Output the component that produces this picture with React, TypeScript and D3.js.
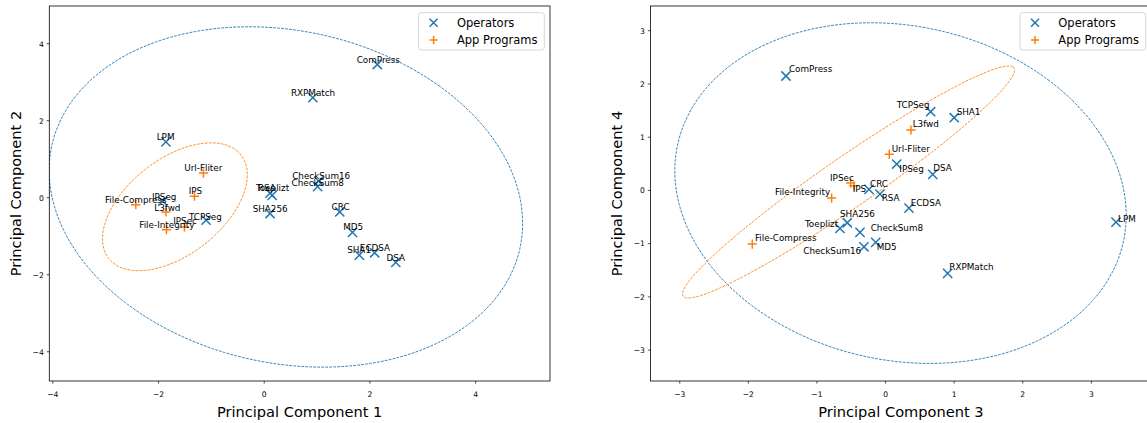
import React from "react";
import * as d3 from "d3";

// ---------- data ----------
const operatorNames = ["ComPress", "RXPMatch", "LPM", "Toeplizt", "RSA", "SHA256", "CheckSum16", "CheckSum8", "CRC", "MD5", "SHA1", "ECDSA", "DSA", "IPSeg", "TCPSeg"];
const operatorPC1 = [2.14, 0.92, -1.86, 0.11, 0.15, 0.11, 1.03, 1.01, 1.43, 1.67, 1.8, 2.09, 2.49, -1.92, -1.1];
const operatorPC2 = [3.46, 2.6, 1.45, 0.12, 0.06, -0.41, 0.43, 0.29, -0.37, -0.9, -1.49, -1.43, -1.68, -0.09, -0.58];
const operatorPC3 = [-1.452, 0.905, 3.359, -0.665, -0.082, -0.558, -0.315, -0.373, -0.242, -0.144, 1.001, 0.341, 0.687, 0.162, 0.657];
const operatorPC4 = [2.15, -1.558, -0.594, -0.712, -0.068, -0.607, -1.058, -0.787, 0.021, -0.975, 1.366, -0.331, 0.303, 0.496, 1.479];
// label anchor (text start, baseline) in data units
const operatorLabelPC1 = [1.75, 0.505, -2.035, -0.157, -0.119, -0.219, 0.53, 0.518, 1.275, 1.494, 1.57, 1.81, 2.316, -2.124, -1.425];
const operatorLabelPC2 = [3.49, 2.634, 1.492, 0.176, 0.18, -0.368, 0.48, 0.317, -0.324, -0.851, -1.448, -1.38, -1.64, -0.065, -0.566];
const operatorLabelPC3 = [-1.408, 0.929, 3.388, -1.175, -0.057, -0.665, -1.2, -0.217, -0.227, -0.13, 1.036, 0.366, 0.695, 0.2, 0.162];
const operatorLabelPC4 = [2.225, -1.496, -0.594, -0.693, -0.199, -0.505, -1.195, -0.757, 0.07, -1.12, 1.417, -0.293, 0.365, 0.351, 1.543];

const appNames = ["Url-Fliter", "IPS", "File-Compress", "L3fwd", "File-Integrity", "IPSec"];
const appPC1 = [-1.15, -1.32, -2.43, -1.86, -1.85, -1.51];
const appPC2 = [0.64, 0.04, -0.18, -0.37, -0.83, -0.76];
const appPC3 = [0.054, -0.461, -1.943, 0.37, -0.786, -0.509];
const appPC4 = [0.678, 0.088, -1.007, 1.135, -0.143, 0.139];
const appLabelPC1 = [-1.513, -1.43, -3.014, -2.081, -2.365, -1.722];
const appLabelPC2 = [0.695, 0.091, -0.135, -0.343, -0.799, -0.688];
const appLabelPC3 = [0.089, -0.48, -1.904, 0.395, -1.612, -0.81];
const appLabelPC4 = [0.727, -0.03, -0.945, 1.197, -0.086, 0.177];

const seriesNames = ["Operators", "App Programs"];
// confidence ellipses: [Operators, App Programs]
const ellipse12CenterX = [0.41, -1.69];
const ellipse12CenterY = [0.02, -0.235];
const ellipse12SpreadX = [4.48, 1.37];
const ellipse12SpreadY = [4.42, 1.66];
const ellipse12Rho = [-0.155, 0.5];
const ellipse34CenterX = [0.218, -0.54];
const ellipse34CenterY = [-0.05, 0.158];
const ellipse34SpreadX = [3.29, 2.42];
const ellipse34SpreadY = [3.2, 2.18];
const ellipse34Rho = [-0.13, 0.965];

const ticks12X = [-4, -2, 0, 2, 4];
const ticks12Y = [-4, -2, 0, 2, 4];
const ticks34X = [-3, -2, -1, 0, 1, 2, 3];
const ticks34Y = [-3, -2, -1, 0, 1, 2, 3];

// ---------- style ----------
const BLUE = "#1f77b4";
const ORANGE = "#ff7f0e";
const FONT = "DejaVu Sans, Verdana, sans-serif";

const fmt = (v: number) => (v < 0 ? "\u2212" + Math.abs(v) : String(v));

function XMark({ x, y, h, color }: any) {
  return (
    <path d={`M${x - h},${y - h}L${x + h},${y + h}M${x - h},${y + h}L${x + h},${y - h}`} stroke={color} strokeWidth={1.5} fill="none" />
  );
}
function PlusMark({ x, y, h, color }: any) {
  return (
    <path d={`M${x - h},${y}L${x + h},${y}M${x},${y - h}L${x},${y + h}`} stroke={color} strokeWidth={1.5} fill="none" />
  );
}

function ellipsePoints(cx: number, cy: number, sx: number, sy: number, rho: number) {
  const r1 = Math.sqrt(1 + rho);
  const r2 = Math.sqrt(1 - rho);
  const pts: [number, number][] = [];
  const n = 240;
  for (let i = 0; i <= n; i++) {
    const t = (i / n) * Math.PI * 2;
    const u = r1 * Math.cos(t);
    const v = r2 * Math.sin(t);
    const ex = (u - v) / Math.SQRT2;
    const ey = (u + v) / Math.SQRT2;
    pts.push([cx + sx * ex, cy + sy * ey]);
  }
  return pts;
}

function Panel(props: any) {
  const {
    id, x0, x1, y0, y1, xDomain, yDomain, xTicks, yTicks, xLabel, yLabel,
    opX, opY, opLX, opLY, apX, apY, apLX, apLY,
    eCX, eCY, eSX, eSY, eRho,
  } = props;
  const xs = d3.scaleLinear().domain(xDomain).range([x0, x1]);
  const ys = d3.scaleLinear().domain(yDomain).range([y1, y0]);
  const line = d3.line<[number, number]>().x((d) => xs(d[0])).y((d) => ys(d[1]));
  const colors = [BLUE, ORANGE];
  const tickLen = 2.6;
  const legW = 125.7, legH = 37.3;
  const legX = x1 - 5.7 - legW, legY = y0 + 6.7;
  return (
    <g>
      <defs>
        <clipPath id={id}>
          <rect x={x0} y={y0} width={x1 - x0} height={y1 - y0} />
        </clipPath>
      </defs>
      <g clipPath={`url(#${id})`}>
        {colors.map((c, i) => (
          <path
            key={i}
            d={line(ellipsePoints(eCX[i], eCY[i], eSX[i], eSY[i], eRho[i])) || ""}
            fill="none"
            stroke={c}
            strokeWidth={0.9}
            strokeDasharray="2.8,1.2"
          />
        ))}
        {opX.map((v: number, i: number) => (
          <XMark key={"o" + i} x={xs(v)} y={ys(opY[i])} h={4.6} color={BLUE} />
        ))}
        {apX.map((v: number, i: number) => (
          <PlusMark key={"a" + i} x={xs(v)} y={ys(apY[i])} h={4.6} color={ORANGE} />
        ))}
      </g>
      {operatorNames.map((n, i) => (
        <text key={"ol" + i} x={xs(opLX[i])} y={ys(opLY[i])} fontSize={8.8} fontFamily={FONT} fill="#000">
          {n}
        </text>
      ))}
      {appNames.map((n, i) => (
        <text key={"al" + i} x={xs(apLX[i])} y={ys(apLY[i])} fontSize={8.8} fontFamily={FONT} fill="#000">
          {n}
        </text>
      ))}
      <rect x={x0} y={y0} width={x1 - x0} height={y1 - y0} fill="none" stroke="#000" strokeWidth={0.8} />
      {xTicks.map((t: number) => (
        <g key={"xt" + t}>
          <line x1={xs(t)} x2={xs(t)} y1={y1} y2={y1 + tickLen} stroke="#000" strokeWidth={0.7} />
          <text x={xs(t)} y={y1 + 15.5} textAnchor="middle" fontSize={7.6} fontFamily={FONT} fill="#000">
            {fmt(t)}
          </text>
        </g>
      ))}
      {yTicks.map((t: number) => (
        <g key={"yt" + t}>
          <line x1={x0 - tickLen} x2={x0} y1={ys(t)} y2={ys(t)} stroke="#000" strokeWidth={0.7} />
          <text x={x0 - 5.5} y={ys(t) + 2.8} textAnchor="end" fontSize={7.6} fontFamily={FONT} fill="#000">
            {fmt(t)}
          </text>
        </g>
      ))}
      <text x={(x0 + x1) / 2} y={417} textAnchor="middle" fontSize={14.6} fontFamily={FONT} fill="#000">
        {xLabel}
      </text>
      <text
        transform={`translate(${x0 - 28.5},${(y0 + y1) / 2}) rotate(-90)`}
        textAnchor="middle"
        fontSize={14.6}
        fontFamily={FONT}
        fill="#000"
      >
        {yLabel}
      </text>
      <rect x={legX} y={legY} width={legW} height={legH} rx={2.5} fill="#fff" fillOpacity={0.8} stroke="#cccccc" strokeWidth={0.8} />
      <XMark x={legX + 15} y={legY + 10} h={4} color={BLUE} />
      <PlusMark x={legX + 15} y={legY + 27.3} h={4} color={ORANGE} />
      {seriesNames.map((s, i) => (
        <text key={s} x={legX + 38.3} y={legY + 14 + i * 17.3} fontSize={11.5} fontFamily={FONT} fill="#000">
          {s}
        </text>
      ))}
    </g>
  );
}

export default function App() {
  return (
    <svg width={1147} height={423} style={{ position: "absolute", left: 0, top: 0, background: "#fff" }}>
      <rect x={0} y={0} width={1147} height={423} fill="#fff" />
      <Panel
        id="clipA"
        x0={49.3}
        x1={550}
        y0={6}
        y1={381}
        xDomain={[-4.067, 5.408]}
        yDomain={[-4.76, 4.98]}
        xTicks={ticks12X}
        yTicks={ticks12Y}
        xLabel="Principal Component 1"
        yLabel="Principal Component 2"
        opX={operatorPC1}
        opY={operatorPC2}
        opLX={operatorLabelPC1}
        opLY={operatorLabelPC2}
        apX={appPC1}
        apY={appPC2}
        apLX={appLabelPC1}
        apLY={appLabelPC2}
        eCX={ellipse12CenterX}
        eCY={ellipse12CenterY}
        eSX={ellipse12SpreadX}
        eSY={ellipse12SpreadY}
        eRho={ellipse12Rho}
      />
      <Panel
        id="clipB"
        x0={650.4}
        x1={1151.4}
        y0={6}
        y1={381}
        xDomain={[-3.428, 3.875]}
        yDomain={[-3.58, 3.465]}
        xTicks={ticks34X}
        yTicks={ticks34Y}
        xLabel="Principal Component 3"
        yLabel="Principal Component 4"
        opX={operatorPC3}
        opY={operatorPC4}
        opLX={operatorLabelPC3}
        opLY={operatorLabelPC4}
        apX={appPC3}
        apY={appPC4}
        apLX={appLabelPC3}
        apLY={appLabelPC4}
        eCX={ellipse34CenterX}
        eCY={ellipse34CenterY}
        eSX={ellipse34SpreadX}
        eSY={ellipse34SpreadY}
        eRho={ellipse34Rho}
      />
    </svg>
  );
}
